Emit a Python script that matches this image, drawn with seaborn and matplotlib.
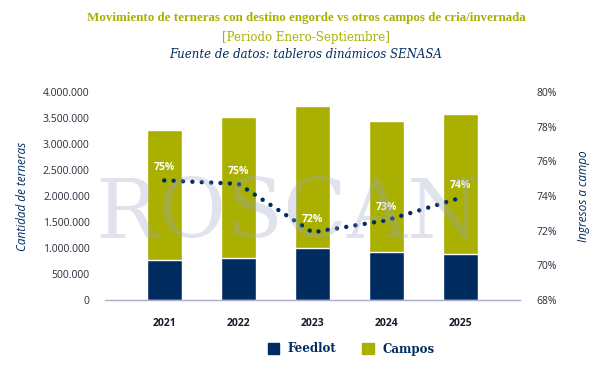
import numpy as np
import pandas as pd
import matplotlib.pyplot as plt
import seaborn as sns
from matplotlib.ticker import FuncFormatter
from matplotlib.patches import Patch

# Data
years = ['2021', '2022', '2023', '2024', '2025']
feedlot = [770000, 810000, 1000000, 920000, 890000]
campos = [2500000, 2710000, 2730000, 2520000, 2690000]
pct_campo = [74.9, 74.7, 71.9, 72.6, 73.9]
pct_labels = ['75%', '75%', '72%', '73%', '74%']

navy = '#002C5F'
olive = '#A9B000'

df = pd.DataFrame({'year': years, 'Feedlot': feedlot, 'Campos': campos})
df['total'] = df['Feedlot'] + df['Campos']

sns.set_style('white')
plt.rcParams['font.family'] = ['Open Sans', 'DejaVu Sans']

fig = plt.figure(figsize=(6.12, 3.71), dpi=100)
ax = fig.add_axes([105 / 612, 1 - 300 / 371, 415 / 612, 208 / 371])

sns.barplot(data=df, x='year', y='total', color=olive, width=0.47, saturation=1, ax=ax)
sns.barplot(data=df, x='year', y='Feedlot', color=navy, width=0.47, saturation=1, ax=ax)

ax.set_xlim(-0.8, 4.8)
ax.set_ylim(0, 4000000)
ax.set_yticks(np.arange(0, 4000001, 500000))
ax.yaxis.set_major_formatter(FuncFormatter(lambda v, p: f'{int(v):,}'.replace(',', '.')))
for s in ['top', 'right', 'left']:
    ax.spines[s].set_visible(False)
ax.spines['bottom'].set_color('#A8AECB')
ax.spines['bottom'].set_linewidth(1.0)
ax.tick_params(axis='y', length=0, pad=11, labelsize=7.5, labelcolor='#2A2A3A')
ax.tick_params(axis='x', length=0, pad=13, labelsize=7.5, labelcolor='#1A1A2A')
for t in ax.get_xticklabels():
    t.set_fontweight('bold')
ax.set_xlabel('')
ax.set_ylabel('Cantidad de terneras', fontsize=8.5, style='italic', color=navy, labelpad=10)

ax2 = ax.twinx()
sns.lineplot(x=np.arange(len(years)), y=pct_campo, ax=ax2, color=navy, lw=3.2,
             linestyle=(0, (0.01, 2.1)), dash_capstyle='round')
ax2.set_ylim(68, 80)
ax2.set_yticks(np.arange(68, 81, 2))
ax2.yaxis.set_major_formatter(FuncFormatter(lambda v, p: f'{int(v)}%'))
for s in ['top', 'right', 'left', 'bottom']:
    ax2.spines[s].set_visible(False)
ax2.tick_params(axis='y', length=0, pad=12, labelsize=7.5, labelcolor='#2A2A3A')
ax2.set_ylabel('Ingresos a campo', fontsize=8.5, style='italic', color=navy, labelpad=14)

for i, (v, lab) in enumerate(zip(pct_campo, pct_labels)):
    ax2.annotate(lab, (i, v), xytext=(0, 5), textcoords='offset points', ha='center',
                 va='bottom', color='white', fontsize=7.5, fontweight='bold', zorder=12)

# watermark
fig.text(288 / 612, 1 - 215 / 371, 'ROSCAN', family='DejaVu Serif', fontsize=60,
         color='#9AA3C8', alpha=0.3, ha='center', va='center', zorder=1)

fig.text(0.5, 1 - 18 / 371, 'Movimiento de terneras con destino engorde vs otros campos de cria/invernada',
         family='Liberation Serif', fontweight='bold', fontsize=9.4, color=olive, ha='center', va='center')
fig.text(0.5, 1 - 37 / 371, '[Periodo Enero-Septiembre]', family='DejaVu Serif', fontsize=8.5,
         color=olive, ha='center', va='center')
fig.text(0.5, 1 - 54 / 371, 'Fuente de datos: tableros dinámicos SENASA', family='DejaVu Serif',
         style='italic', fontsize=8.5, color=navy, ha='center', va='center')

# legend
handles = [Patch(color=navy, label='Feedlot'), Patch(color=olive, label='Campos')]
leg = fig.legend(handles=handles, loc='center', bbox_to_anchor=(351 / 612, 1 - 349 / 371), ncol=2,
                 frameon=False, handlelength=1.0, handleheight=1.0, columnspacing=2.2,
                 handletextpad=0.7, prop={'family': 'DejaVu Serif', 'weight': 'bold', 'size': 8.5})
for t in leg.get_texts():
    t.set_color(navy)

fig.savefig('out.png', dpi=100)
